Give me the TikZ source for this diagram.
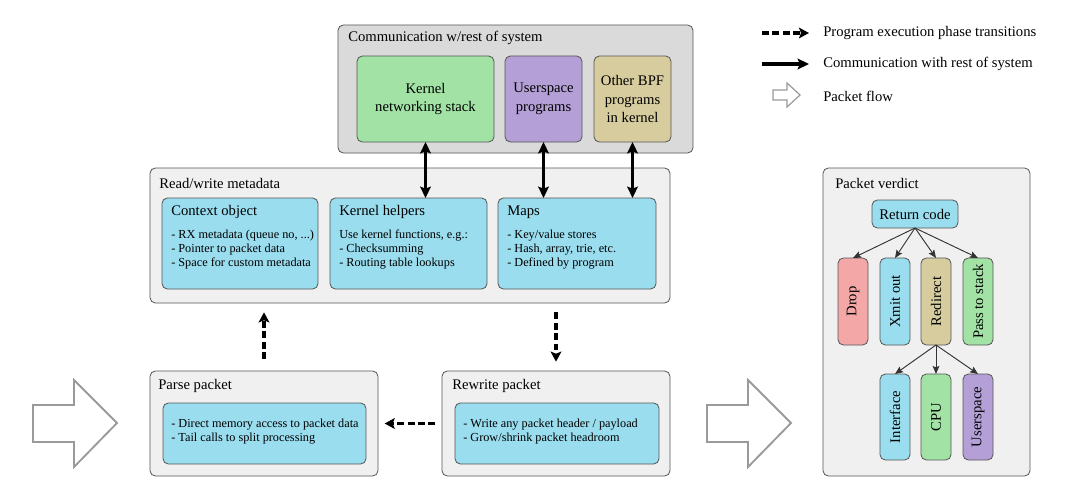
\documentclass[tikz,border=0pt]{standalone}
\usepackage{fontspec}
\setmainfont{Liberation Serif}
\usetikzlibrary{arrows.meta}
\definecolor{cgreen}{HTML}{A2E3A5}
\definecolor{cpurple}{HTML}{B4A0D6}
\definecolor{ctan}{HTML}{D7CC9E}
\definecolor{cblue}{HTML}{99DDEF}
\definecolor{cpink}{HTML}{F4A7A7}
\definecolor{cdgray}{HTML}{DADADA}
\definecolor{clgray}{HTML}{F0F0F0}
\definecolor{cborder}{HTML}{555555}
\definecolor{chollow}{HTML}{9A9A9A}
\newcommand{\mybox}[6]{\node[#1, minimum width={(#4-#2)*0.75pt}, minimum height={(#5-#3)*0.75pt}] (#6) at ({(#2+#4)/2},{(#3+#5)/2}) {};}
\tikzset{
  shp/.style={draw=cborder, line width=0.6pt, rounded corners=4pt, inner sep=0pt, outer sep=0pt},
  outerg/.style={shp, fill=cdgray},
  outerl/.style={shp, fill=clgray},
  gbox/.style={shp, fill=cgreen},
  pbox/.style={shp, fill=cpurple},
  tbox/.style={shp, fill=ctan},
  bbox/.style={shp, fill=cblue},
  rbox/.style={shp, fill=cpink},
  ttl/.style={font=\fontsize{11}{13}\selectfont, inner sep=0pt, anchor=west},
  body/.style={font=\fontsize{9.2}{10.5}\selectfont, inner sep=0pt, anchor=west, align=left},
  ctext/.style={font=\fontsize{11}{14}\selectfont, inner sep=0pt, align=center},
  vtext/.style={font=\fontsize{11}{13}\selectfont, inner sep=0pt, rotate=90},
  comm/.style={line width=2.6pt, {Stealth[length=8.5pt,width=8pt,inset=1.5pt]}-{Stealth[length=8.5pt,width=8pt,inset=1.5pt]}},
  phase/.style={line width=2.6pt, dash pattern=on 5.2pt off 2.6pt, -{Stealth[length=7.5pt,width=8pt,inset=1.5pt]}},
  commone/.style={line width=2.6pt, -{Stealth[length=8.5pt,width=8pt,inset=1.5pt]}},
  vflow/.style={line width=0.7pt, draw=black!80, -{Stealth[length=6pt,width=5pt,inset=1pt]}},
  hollow/.style={draw=chollow, line width=1.4pt, fill=white},
}
\begin{document}
\begin{tikzpicture}[x=0.75pt,y=-0.75pt]
\useasboundingbox (0,0) rectangle (1070,492);

% Top box
\mybox{outerg}{338}{25}{693}{153}{comm}
\node[ttl] (commt) at (348,38) {Communication w/rest of system};
\mybox{gbox}{357}{56}{494}{142}{kern}
\node[ctext] (kernt) at (kern) {Kernel\\networking stack};
\mybox{pbox}{505}{56}{582}{142}{user}
\node[ctext] (usert) at (user) {Userspace\\programs};
\mybox{tbox}{594}{56}{671}{142}{obpf}
\node[ctext] (obpft) at (obpf) {Other BPF\\programs\\in kernel};

% Middle box
\mybox{outerl}{150}{168}{670}{303}{meta}
\node[ttl] (metat) at (159,183) {Read/write metadata};
\mybox{bbox}{162}{198}{318}{289}{ctx}
\node[ttl] (ctxt) at (171,212) {Context object};
\node[body] (ctxb) at (171,250) {- RX metadata (queue no, ...)\\- Pointer to packet data\\- Space for custom metadata};
\mybox{bbox}{330}{198}{487}{289}{help}
\node[ttl] (helpt) at (339,212) {Kernel helpers};
\node[body] (helpb) at (339,250) {Use kernel functions, e.g.:\\- Checksumming\\- Routing table lookups};
\mybox{bbox}{498}{198}{656}{289}{maps}
\node[ttl] (mapst) at (507,212) {Maps};
\node[body] (mapsb) at (507,250) {- Key/value stores\\- Hash, array, trie, etc.\\- Defined by program};

% Bottom boxes
\mybox{outerl}{150}{371}{378}{476}{parse}
\node[ttl] (parset) at (158,386) {Parse packet};
\mybox{bbox}{163}{403}{366}{464}{parsei}
\node[body] (parseb) at (171,432) {- Direct memory access to packet data\\- Tail calls to split processing};
\mybox{outerl}{442}{371}{670}{476}{rewr}
\node[ttl] (rewrt) at (452,386) {Rewrite packet};
\mybox{bbox}{455}{403}{659}{464}{rewri}
\node[body] (rewrb) at (463,432) {- Write any packet header / payload\\- Grow/shrink packet headroom};

% Communication arrows
\draw[comm] (kern.south) -- (kern.south |- help.north);
\draw[comm] (user.south) -- (user.south |- maps.north);
\draw[comm] (obpf.south) -- (obpf.south |- maps.north);

% Phase arrows
\draw[phase, shorten <=9pt, shorten >=7pt] (parse.north) -- (parse.north |- meta.south);
\draw[phase, shorten <=7pt, shorten >=7pt] (rewr.north |- meta.south) -- (rewr.north);
\draw[phase, shorten <=5pt, shorten >=5pt] (rewr.west) -- (parse.east);

% Hollow packet flow arrows
\draw[hollow] (33,405) -- (74,405) -- (74,380) -- (117,423) -- (74,467) -- (74,442) -- (33,442) -- cycle;
\draw[hollow] (707,405) -- (748,405) -- (748,380) -- (791,423) -- (748,467) -- (748,442) -- (707,442) -- cycle;

% Packet verdict
\mybox{outerl}{823}{168}{1030}{476}{verd}
\node[ttl] (verdt) at (835,183) {Packet verdict};
\mybox{bbox}{872}{200}{958}{228}{ret}
\node[ctext] (rett) at (ret) {Return code};
\mybox{rbox}{838}{258}{868}{345}{drop}
\node[vtext] (dropt) at (drop) {Drop};
\mybox{bbox}{880}{258}{910}{345}{xmit}
\node[vtext] (xmitt) at (xmit) {Xmit out};
\mybox{tbox}{921}{258}{951}{345}{redir}
\node[vtext] (redirt) at (redir) {Redirect};
\mybox{gbox}{963}{258}{993}{345}{pass}
\node[vtext] (passt) at (pass) {Pass to stack};
\mybox{bbox}{880}{374}{910}{460}{iface}
\node[vtext] (ifacet) at (iface) {Interface};
\mybox{gbox}{921}{374}{951}{460}{cpu}
\node[vtext] (cput) at (cpu) {CPU};
\mybox{pbox}{963}{374}{993}{460}{usp}
\node[vtext] (uspt) at (usp) {Userspace};
\foreach \t in {drop,xmit,redir,pass} \draw[vflow] (ret.south) -- (\t.north);
\foreach \t in {iface,cpu,usp} \draw[vflow] (redir.south) -- (\t.north);

% Legend
\coordinate (l1a) at (762,33); \coordinate (l1b) at (809,33);
\draw[phase] (l1a) -- (l1b);
\node[ttl] (l1t) at (823,33) {Program execution phase transitions};
\coordinate (l2a) at (762,64); \coordinate (l2b) at (809,64);
\draw[commone] (l2a) -- (l2b);
\node[ttl] (l2t) at (823,64) {Communication with rest of system};
\draw[hollow, line width=0.9pt] (773,90) -- (787,90) -- (787,83) -- (800,95) -- (787,107) -- (787,100) -- (773,100) -- cycle;
\node[ttl] (l3t) at (823,96) {Packet flow};
\end{tikzpicture}
\end{document}
